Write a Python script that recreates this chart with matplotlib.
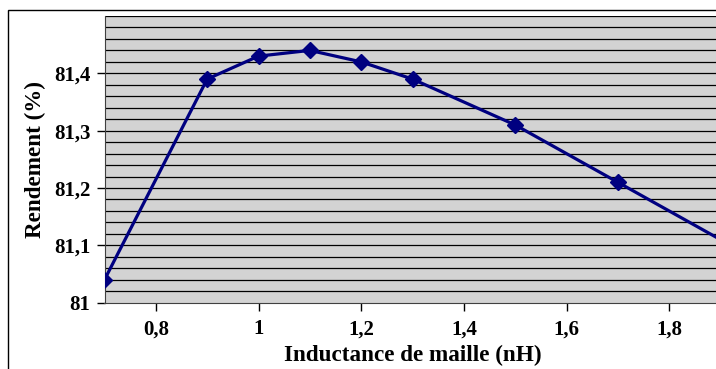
import matplotlib
matplotlib.use("Agg")
import matplotlib.pyplot as plt
from matplotlib.patches import Rectangle
import numpy as np

# rendement vs inductance de maille
inductance = [0.7, 0.9, 1.0, 1.1, 1.2, 1.3, 1.5, 1.7, 2.0]
rendement = [81.04, 81.39, 81.43, 81.44, 81.42, 81.39, 81.31, 81.21, 81.06]

x_ticks = [0.8, 1.0, 1.2, 1.4, 1.6, 1.8]
x_labels = ["0,8", "1", "1,2", "1,4", "1,6", "1,8"]
y_ticks = [81.0, 81.1, 81.2, 81.3, 81.4]
y_labels = ["81", "81,1", "81,2", "81,3", "81,4"]

plt.rcParams['font.family'] = ['Liberation Serif', 'DejaVu Serif']
plt.rcParams['font.weight'] = 'bold'

W, H = 716, 369
fig = plt.figure(figsize=(W / 100, H / 100), dpi=100)
fig.patch.set_facecolor('white')

# chart frame, runs off the right and bottom
frame = Rectangle((8 / W, -0.1), 1.2, (H - 10) / H + 0.1, transform=fig.transFigure,
                  fill=False, edgecolor='black', linewidth=1.0)
fig.add_artist(frame)

left, right, top, bottom = 104.5, 720.5, 16, 302.7
ax = fig.add_axes([left / W, (H - bottom) / H, (right - left) / W, (bottom - top) / H])
ax.set_facecolor('#d3d3d3')

for yv in np.arange(81.02, 81.5, 0.02):
    ax.axhline(yv, color='black', linewidth=0.9, zorder=1)

ax.plot(inductance, rendement, color='#000080', linewidth=2.3, marker='D',
        markersize=8, zorder=3)

ax.set_xticks(x_ticks)
ax.set_xticklabels(x_labels, fontsize=15, fontweight='bold')
ax.set_yticks(y_ticks)
ax.set_yticklabels(y_labels, fontsize=15, fontweight='bold')
ax.set_xlim(0.7, 1.9)
ax.set_ylim(81.0, 81.5)
ax.tick_params(axis='both', direction='out', length=6, width=1, color='black', pad=4)
ax.tick_params(axis='x', pad=6)

for s in ['top', 'right']:
    ax.spines[s].set_visible(False)
ax.spines['left'].set_color('#404040')
ax.spines['bottom'].set_color('#404040')

ax.set_xlabel("Inductance de maille (nH)", fontsize=16.7, fontweight='bold', labelpad=4)
ax.set_ylabel("Rendement (%)", fontsize=16.7, fontweight='bold', labelpad=6)

fig.savefig("out.png", dpi=100)
